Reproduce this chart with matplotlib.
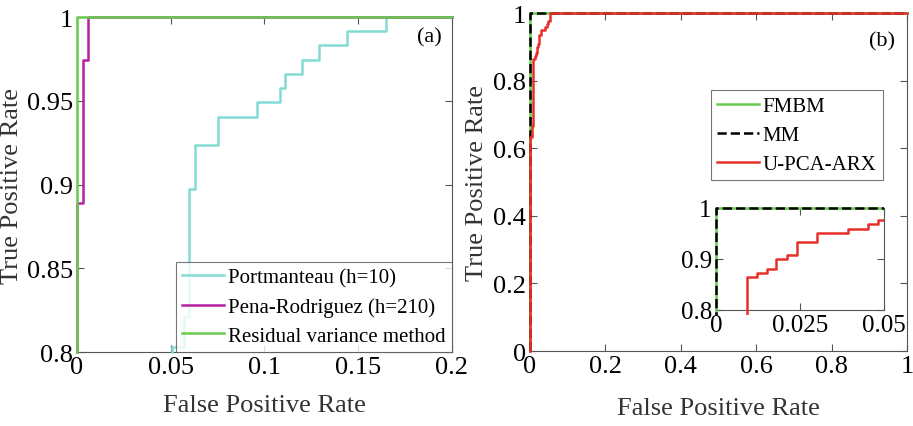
import matplotlib
matplotlib.use('Agg')
from matplotlib import pyplot as plt
from matplotlib.transforms import Bbox, TransformedBbox

plt.rcParams['font.family'] = 'serif'
plt.rcParams['font.serif'] = ['Liberation Serif', 'Times New Roman', 'DejaVu Serif']

# ---- panel (a) data (steps-post vertices) ----
port_fpr = [0.0507, 0.0507, 0.0569, 0.0599, 0.0628, 0.075, 0.096, 0.1081, 0.111, 0.120, 0.1289, 0.144, 0.165, 0.2]
port_tpr = [0.800, 0.803, 0.8206, 0.8975, 0.9235, 0.9405, 0.949, 0.9574, 0.966, 0.9746, 0.9832, 0.9918, 1.0, 1.0]
pena_fpr = [0, 0, 0.003, 0.0059, 0.2]
pena_tpr = [0.8, 0.889, 0.9746, 1.0, 1.0]
resid_fpr = [0, 0, 0.2]
resid_tpr = [0.8, 1.0, 1.0]

# ---- panel (b) data ----
fmbm_fpr = [0, 0, 1]
fmbm_tpr = [0, 1.0, 1.0]
mm_fpr = [0, 0, 1]
mm_tpr = [0, 1.0, 1.0]
upca_fpr = [0, 0, 0.006, 0.00913, 0.0121, 0.0151, 0.018, 0.021, 0.0242, 0.0302, 0.0392, 0.0453, 0.0483, 0.053, 1.0]
upca_tpr = [0, 0.632, 0.667, 0.864, 0.873, 0.881, 0.899, 0.907, 0.934, 0.950, 0.958, 0.968, 0.976, 1.0, 1.0]

c_port = '#82dcd3'
c_pena = '#b81fa5'
c_green = '#66cc4d'
c_red = '#e8302a'

tick_fs = 19
label_fs = 19
leg_fs = 15

fig = plt.figure(figsize=(9.13, 4.27), dpi=100)


def style_axes(ax, fs=tick_fs):
    ax.tick_params(direction='in', top=True, right=True, length=5, width=0.8,
                   labelsize=fs, colors='#555555', labelcolor='black', pad=3)
    for s in ax.spines.values():
        s.set_color('#555555')
        s.set_linewidth(0.8)


# panel (a)
ax1 = fig.add_axes([0.0843, 0.1733, 0.4107, 0.7845])
ax1.plot(port_fpr, port_tpr, drawstyle='steps-post', color=c_port, lw=1.8,
         label='Portmanteau (h=10)', clip_on=False, zorder=3)
ax1.plot(pena_fpr, pena_tpr, drawstyle='steps-post', color=c_pena, lw=1.8,
         label='Pena-Rodriguez (h=210)', clip_on=False, zorder=3)
ax1.plot(resid_fpr, resid_tpr, drawstyle='steps-post', color=c_green, lw=1.8,
         label='Residual variance method', clip_on=False, zorder=3)
ax1.set_xlim(0, 0.2)
ax1.set_ylim(0.8, 1)
ax1.set_xticks([0, 0.05, 0.1, 0.15, 0.2])
ax1.set_xticklabels(['0', '0.05', '0.1', '0.15', '0.2'])
ax1.set_yticks([0.8, 0.85, 0.9, 0.95, 1])
ax1.set_yticklabels(['0.8', '0.85', '0.9', '0.95', '1'])
style_axes(ax1)
ax1.set_xlabel('False Positive Rate', fontsize=label_fs, color='#333333')
ax1.set_ylabel('True Positive Rate', fontsize=label_fs, color='#333333')
ax1.xaxis.set_label_coords(0.5, -0.125)
ax1.yaxis.set_label_coords(-0.144, 0.5)
ax1.text(0.941, 0.94, '(a)', transform=ax1.transAxes, fontsize=16,
         ha='center', va='center')
leg1 = ax1.legend(loc='lower right', borderaxespad=0, fontsize=leg_fs,
                  fancybox=False, edgecolor='#555555', handlelength=2.0,
                  handletextpad=0.2, borderpad=0.3, labelspacing=0.45)
leg1.get_frame().set_linewidth(0.8)

# panel (b)
ax2 = fig.add_axes([0.5805, 0.1756, 0.4129, 0.7916])
ax2.plot(fmbm_fpr, fmbm_tpr, drawstyle='steps-post', color=c_green, lw=1.8,
         label='FMBM', clip_on=False, zorder=3)
ax2.plot(mm_fpr, mm_tpr, drawstyle='steps-post', color='black', lw=1.8,
         ls='--', label='MM', clip_on=False, zorder=3)
ax2.plot(upca_fpr, upca_tpr, drawstyle='steps-post', color=c_red, lw=1.8,
         label='U-PCA-ARX', clip_on=False, zorder=3)
ax2.set_xlim(0, 1)
ax2.set_ylim(0, 1)
ax2.set_xticks([0, 0.2, 0.4, 0.6, 0.8, 1])
ax2.set_xticklabels(['0', '0.2', '0.4', '0.6', '0.8', '1'])
ax2.set_yticks([0, 0.2, 0.4, 0.6, 0.8, 1])
ax2.set_yticklabels(['0', '0.2', '0.4', '0.6', '0.8', '1'])
style_axes(ax2)
ax2.set_xlabel('False Positive Rate', fontsize=label_fs, color='#333333')
ax2.set_ylabel('True Positive Rate', fontsize=label_fs, color='#333333')
ax2.xaxis.set_label_coords(0.5, -0.136)
ax2.yaxis.set_label_coords(-0.111, 0.5)
ax2.text(0.934, 0.917, '(b)', transform=ax2.transAxes, fontsize=16,
         ha='center', va='center')
leg2 = ax2.legend(loc='upper right', bbox_to_anchor=(0.936, 0.772),
                  borderaxespad=0, fontsize=leg_fs, fancybox=False,
                  edgecolor='#555555', handlelength=2.0, handletextpad=0.2,
                  borderpad=0.3, labelspacing=0.45)
leg2.get_frame().set_linewidth(0.8)

# inset zoom of panel (b)
ins = fig.add_axes([0.7842, 0.2717, 0.184, 0.2389])
clip = TransformedBbox(Bbox([[-0.05, -0.05], [1.0, 1.04]]), ins.transAxes)
for fx, ty, kw in [(fmbm_fpr, fmbm_tpr, dict(color=c_green)),
                   (mm_fpr, mm_tpr, dict(color='black', ls='--')),
                   (upca_fpr, upca_tpr, dict(color=c_red))]:
    ln, = ins.plot(fx, ty, drawstyle='steps-post', lw=1.8, zorder=3, **kw)
    ln.set_clip_box(clip)
ins.set_xlim(0, 0.05)
ins.set_ylim(0.8, 1)
ins.set_xticks([0, 0.025, 0.05])
ins.set_xticklabels(['0', '0.025', '0.05'])
ins.set_yticks([0.8, 0.9, 1])
ins.set_yticklabels(['0.8', '0.9', '1'])
style_axes(ins, fs=18)

fig.savefig('out.png', dpi=100)
